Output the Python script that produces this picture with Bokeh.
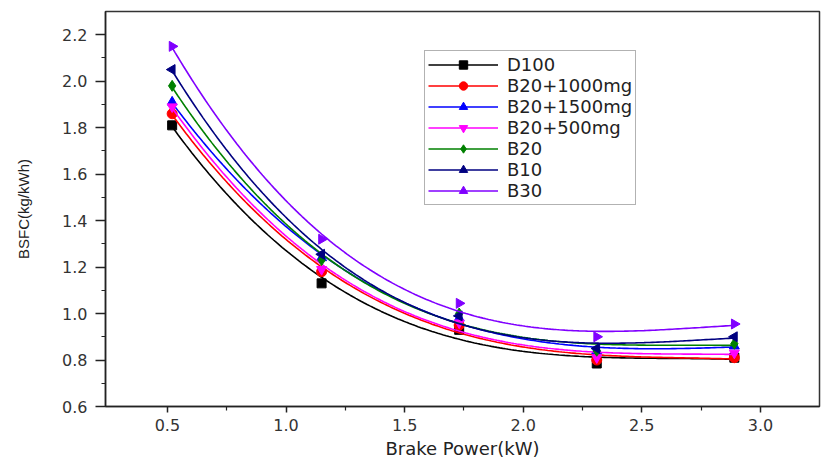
import numpy as np
from bokeh.plotting import figure
from bokeh.models import Legend, LegendItem, FixedTicker
from bokeh.embed import file_html
from bokeh.resources import INLINE

# ---- data ----
brake_power = [0.52, 1.15, 1.73, 2.31, 2.89]

series_names = ["D100", "B20+1000mg", "B20+1500mg", "B20+500mg", "B20", "B10", "B30"]
d100 = [1.81, 1.13, 0.93, 0.785, 0.81]
b20_1000 = [1.86, 1.18, 0.95, 0.80, 0.81]
b20_1500 = [1.91, 1.24, 0.98, 0.84, 0.86]
b20_500 = [1.89, 1.19, 0.96, 0.81, 0.83]
b20 = [1.98, 1.23, 1.00, 0.84, 0.87]
b10 = [2.05, 1.255, 0.99, 0.85, 0.90]
b30 = [2.15, 1.32, 1.044, 0.90, 0.955]
series_values = [d100, b20_1000, b20_1500, b20_500, b20, b10, b30]

x_ticks = [0.5, 1.0, 1.5, 2.0, 2.5, 3.0]
y_ticks = [0.6, 0.8, 1.0, 1.2, 1.4, 1.6, 1.8, 2.0, 2.2]

colors = ["#000000", "#FF0000", "#0000FF", "#FF00FF", "#008000", "#000080", "#8000FF"]
markers = ["square", "circle", "triangle", "inverted_triangle", "diamond", "triangle", "triangle"]
angles = [0, 0, 0, 0, 0, np.pi / 2, -np.pi / 2]
sizes = [9, 10, 10, 10, 11, 10, 10]

p = figure(width=827, height=461, output_backend="svg", toolbar_location=None,
           x_range=(0.239, 3.249), y_range=(0.6, 2.3),
           min_border_left=105, min_border_right=8, min_border_top=11, min_border_bottom=55)
p.background_fill_color = "white"
p.border_fill_color = "white"
p.grid.visible = False
p.outline_line_color = "#333333"
p.outline_line_width = 1.5

for ax in (p.xaxis[0], p.yaxis[0]):
    ax.axis_line_color = "#222222"
    ax.axis_line_width = 1.5
    ax.major_tick_line_color = "#222222"
    ax.minor_tick_line_color = "#222222"
    ax.major_tick_line_width = 1.5
    ax.minor_tick_line_width = 1.2
    ax.major_tick_in = 0
    ax.minor_tick_in = 0
    ax.major_label_text_font = "DejaVu Sans"
    ax.major_label_text_font_size = "16px"
    ax.major_label_text_color = "#333333"
    ax.axis_label_text_font_style = "normal"
    ax.axis_label_text_color = "#222222"

p.xaxis.ticker = FixedTicker(ticks=x_ticks, minor_ticks=[0.75, 1.25, 1.75, 2.25, 2.75])
p.yaxis.ticker = FixedTicker(ticks=y_ticks, minor_ticks=[0.7, 0.9, 1.1, 1.3, 1.5, 1.7, 1.9, 2.1])
p.xaxis.major_label_overrides = {t: f"{t:.1f}" for t in x_ticks}
p.yaxis.major_label_overrides = {t: f"{t:.1f}" for t in y_ticks}

p.xaxis.major_tick_out = 6
p.xaxis.minor_tick_out = 4
p.yaxis.major_tick_out = 10
p.yaxis.minor_tick_out = 4
p.xaxis.major_label_standoff = 6
p.yaxis.major_label_standoff = 8

p.xaxis.axis_label = "Brake Power(kW)"
p.xaxis.axis_label_text_font = "DejaVu Sans"
p.xaxis.axis_label_text_font_size = "18px"
p.xaxis.axis_label_standoff = 4
p.yaxis.axis_label = "BSFC(kg/kWh)"
p.yaxis.axis_label_text_font = "Liberation Sans"
p.yaxis.axis_label_text_font_size = "15px"
p.yaxis.axis_label_standoff = 27

items = []
xs = np.array(brake_power)
for name, vals, c, m, a, s in zip(series_names, series_values, colors, markers, angles, sizes):
    coef = np.polyfit(xs, np.array(vals), 3)
    xx = np.linspace(xs[0], xs[-1], 200)
    yy = np.polyval(coef, xx)
    lr = p.line(xx, yy, line_color=c, line_width=1.6)
    sr = p.scatter(brake_power, vals, marker=m, angle=a, size=s,
                   fill_color=c, line_color=c)
    items.append(LegendItem(label=name, renderers=[lr, sr]))

legend = Legend(items=items, location=(319, 201))
legend.label_text_font = "DejaVu Sans"
legend.label_text_font_size = "18px"
legend.label_text_color = "#222222"
legend.glyph_width = 70
legend.glyph_height = 21
legend.label_height = 21
legend.spacing = 0
legend.padding = 3
legend.margin = 0
legend.label_standoff = 9
legend.border_line_color = "#666666"
legend.border_line_width = 1.5
legend.background_fill_color = "white"
legend.background_fill_alpha = 1.0
p.add_layout(legend, "center")

open("out.html", "w").write(file_html(p, INLINE))
